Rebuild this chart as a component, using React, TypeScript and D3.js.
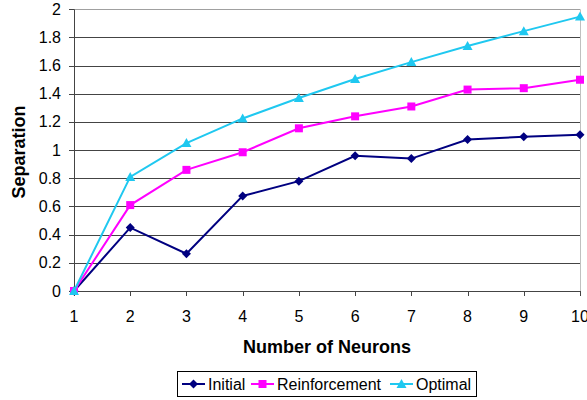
import React from "react";
import * as d3 from "d3";

const neurons = [1, 2, 3, 4, 5, 6, 7, 8, 9, 10];
const initial = [0, 0.45, 0.265, 0.675, 0.78, 0.96, 0.94, 1.075, 1.095, 1.11];
const reinforcement = [0, 0.61, 0.86, 0.985, 1.155, 1.24, 1.31, 1.43, 1.44, 1.5];
const optimal = [0, 0.81, 1.05, 1.225, 1.37, 1.505, 1.625, 1.74, 1.845, 1.948];
const yTicks = [0, 0.2, 0.4, 0.6, 0.8, 1, 1.2, 1.4, 1.6, 1.8, 2];
const seriesNames = ["Initial", "Reinforcement", "Optimal"];
const seriesColors = ["#000080", "#FF00FF", "#1FC8F0"];
const seriesShapes = ["diamond", "square", "triangle"];

const W = 587, H = 400;
const left = 74, right = 580, top = 9.3, bottom = 291;

function Marker({ shape, x, y, color }: { shape: string; x: number; y: number; color: string }) {
  if (shape === "diamond") {
    const s = 4.5;
    return <path d={`M${x},${y - s}L${x + s},${y}L${x},${y + s}L${x - s},${y}Z`} fill={color} />;
  }
  if (shape === "square") {
    const s = 4;
    return <rect x={x - s} y={y - s} width={2 * s} height={2 * s} fill={color} />;
  }
  const s = 5;
  return <path d={`M${x},${y - s}L${x + s},${y + s * 0.8}L${x - s},${y + s * 0.8}Z`} fill={color} />;
}

export default function App() {
  const x = d3.scaleLinear().domain([1, 10]).range([left, right]);
  const y = d3.scaleLinear().domain([0, 2]).range([bottom, top]);
  const data = [initial, reinforcement, optimal];
  const line = d3
    .line<number>()
    .x((_, i) => x(neurons[i]))
    .y((d) => y(d));
  const font = "Liberation Sans, Arial, sans-serif";

  const legendItems = [182, 251, 390];

  return (
    <svg width={W} height={H} style={{ position: "absolute", left: 0, top: 0 }} fontFamily={font}>
      <rect x={0} y={0} width={W} height={H} fill="#fff" />
      {yTicks.map((t) => (
        <line key={t} x1={left} x2={right} y1={Math.round(y(t)) + 0.5} y2={Math.round(y(t)) + 0.5} stroke={t === 2 ? "#a0a0a0" : "#444"} strokeWidth={1} />
      ))}
      <line x1={right + 0.5} x2={right + 0.5} y1={top} y2={bottom} stroke="#c0c0c0" />
      <line x1={left + 0.5} x2={left + 0.5} y1={top} y2={bottom} stroke="#444" />
      <line x1={left} x2={right} y1={Math.round(y(0)) + 0.5} y2={Math.round(y(0)) + 0.5} stroke="#444" />
      {yTicks.map((t) => (
        <g key={"yt" + t}>
          <line x1={left - 5} x2={left} y1={Math.round(y(t)) + 0.5} y2={Math.round(y(t)) + 0.5} stroke="#444" />
          <text x={61} y={y(t) + 5.5} textAnchor="end" fontSize={16} fill="#000">
            {String(t)}
          </text>
        </g>
      ))}
      {neurons.map((n) => (
        <g key={"xt" + n}>
          <line x1={Math.round(x(n)) + 0.5} x2={Math.round(x(n)) + 0.5} y1={bottom} y2={bottom + 5} stroke="#444" />
          <text x={x(n)} y={322} textAnchor="middle" fontSize={16} fill="#000">
            {n}
          </text>
        </g>
      ))}
      {data.map((d, si) => (
        <g key={si}>
          <path d={line(d) || ""} fill="none" stroke={seriesColors[si]} strokeWidth={2} />
          {d.map((v, i) => (
            <Marker key={i} shape={seriesShapes[si]} x={x(neurons[i])} y={y(v)} color={seriesColors[si]} />
          ))}
        </g>
      ))}
      <text x={327} y={353} textAnchor="middle" fontSize={18} fontWeight="bold" fill="#000">
        Number of Neurons
      </text>
      <text transform={`translate(25,152) rotate(-90)`} textAnchor="middle" fontSize={18} fontWeight="bold" fill="#000">
        Separation
      </text>
      <rect x={177.5} y={371.5} width={299} height={25} fill="#fff" stroke="#000" />
      {seriesNames.map((name, i) => {
        const lx = legendItems[i];
        return (
          <g key={name}>
            <line x1={lx} x2={lx + 23} y1={384} y2={384} stroke={seriesColors[i]} strokeWidth={2} />
            <Marker shape={seriesShapes[i]} x={lx + 11.5} y={384} color={seriesColors[i]} />
            <text x={lx + 26} y={390} fontSize={16} fill="#000">
              {name}
            </text>
          </g>
        );
      })}
    </svg>
  );
}
